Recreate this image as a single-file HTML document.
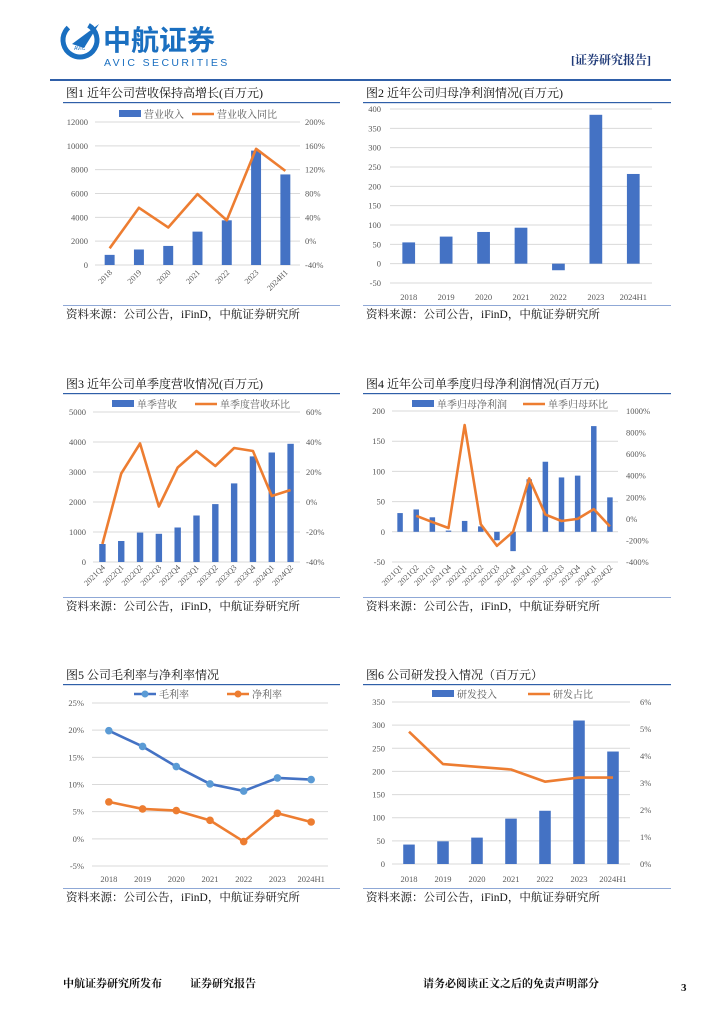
<!DOCTYPE html>
<html><head><meta charset="utf-8">
<style>
html,body{margin:0;padding:0;background:#fff;}
#page{position:relative;width:724px;height:1024px;overflow:hidden;font-family:"Liberation Serif","Noto Serif CJK SC",serif;}
svg text{font-family:"Liberation Serif","Noto Serif CJK SC",serif;}
svg text.sans{font-family:"Liberation Sans","Noto Sans CJK SC",sans-serif;}
</style></head>
<body>
<div id="page">
<svg id="svg" width="724" height="1024" viewBox="0 0 724 1024">
  <g>
    <g>
      <circle cx="80" cy="40" r="17" fill="none" stroke="#1a6fc0" stroke-width="5" stroke-dasharray="85 30" transform="rotate(-60 80 40)"/>
      <polygon points="72,44 99,24 84,48" fill="#1a6fc0"/>
      <text class="sans" x="74" y="50" font-size="5" fill="#1a6fc0">AVIC</text>
    </g>
    <text class="sans" x="103" y="50" font-size="28" font-weight="bold" fill="#1a6fc0">中航证券</text>
    <text class="sans" x="104" y="66" font-size="10.5" fill="#1a6fc0" letter-spacing="2.4">AVIC SECURITIES</text>
    <text x="571" y="64" font-size="12" font-weight="bold" fill="#1f3a78">[证券研究报告]</text>
    <rect x="50" y="79" width="621" height="2" fill="#2f5fa8"/>
  </g>
  <g id="charts"></g>
  <g>
    <text x="63" y="987" font-size="11" font-weight="bold" fill="#111">中航证券研究所发布</text>
    <text x="190" y="987" font-size="11" font-weight="bold" fill="#111">证券研究报告</text>
    <text x="423" y="987" font-size="11" font-weight="bold" fill="#111">请务必阅读正文之后的免责声明部分</text>
    <text x="681" y="991" font-size="11" font-weight="bold" fill="#111">3</text>
  </g>
</svg>
</div>
<script>
// ---------- Chart 1 data ----------
const c1Cats = ["2018","2019","2020","2021","2022","2023","2024H1"];
const c1Revenue = [850,1300,1600,2800,3750,9600,7600];
const c1Growth = [-12,56,23,79,35,155,118];
const c1LeftTicks = [0,2000,4000,6000,8000,10000,12000];
const c1RightTicks = [-40,0,40,80,120,160,200];
const c1RightLabels = ["-40%","0%","40%","80%","120%","160%","200%"];
// ---------- Chart 2 data ----------
const c2Cats = ["2018","2019","2020","2021","2022","2023","2024H1"];
const c2Profit = [55,70,82,93,-17,385,232];
const c2LeftTicks = [-50,0,50,100,150,200,250,300,350,400];
// ---------- Chart 3 data ----------
const c3Cats = ["2021Q4","2022Q1","2022Q2","2022Q3","2022Q4","2023Q1","2023Q2","2023Q3","2023Q4","2024Q1","2024Q2"];
const c3Revenue = [600,700,980,940,1150,1550,1930,2620,3520,3650,3940];
const c3QoQ = [-28,19,39,-3,23,34,24,36,34,4,8];
const c3LeftTicks = [0,1000,2000,3000,4000,5000];
const c3RightTicks = [-40,-20,0,20,40,60];
const c3RightLabels = ["-40%","-20%","0%","20%","40%","60%"];
// ---------- Chart 4 data ----------
const c4Cats = ["2021Q1","2021Q2","2021Q3","2021Q4","2022Q1","2022Q2","2022Q3","2022Q4","2023Q1","2023Q2","2023Q3","2023Q4","2024Q1","2024Q2"];
const c4Profit = [31,37,24,2,18,9,-14,-32,87,116,90,93,175,57];
const c4QoQ = [null,28,-30,-85,870,-50,-250,-120,375,40,-20,0,90,-70];
const c4LeftTicks = [-50,0,50,100,150,200];
const c4RightTicks = [-400,-200,0,200,400,600,800,1000];
const c4RightLabels = ["-400%","-200%","0%","200%","400%","600%","800%","1000%"];
// ---------- Chart 5 data ----------
const c5Cats = ["2018","2019","2020","2021","2022","2023","2024H1"];
const c5Gross = [19.9,17.0,13.3,10.1,8.8,11.2,10.9];
const c5Net = [6.8,5.5,5.2,3.4,-0.5,4.7,3.1];
const c5LeftTicks = [-5,0,5,10,15,20,25];
const c5LeftLabels = ["-5%","0%","5%","10%","15%","20%","25%"];
// ---------- Chart 6 data ----------
const c6Cats = ["2018","2019","2020","2021","2022","2023","2024H1"];
const c6RD = [42,49,57,98,115,310,243];
const c6Ratio = [4.9,3.7,3.6,3.5,3.05,3.2,3.2];
const c6LeftTicks = [0,50,100,150,200,250,300,350];
const c6RightTicks = [0,1,2,3,4,5,6];
const c6RightLabels = ["0%","1%","2%","3%","4%","5%","6%"];

const NS = "http://www.w3.org/2000/svg";
const root = document.getElementById("charts");
const BLUE = "#4472c4", ORANGE = "#ed7d31", GRID = "#d9d9d9", TICK = "#595959";

function mk(tag, attrs, parent){
  const e = document.createElementNS(NS, tag);
  for (const k in attrs) e.setAttribute(k, attrs[k]);
  (parent||root).appendChild(e);
  return e;
}
function txt(parent, x, y, s, size, fill, anchor, extra){
  const t = mk("text", Object.assign({x:x, y:y, "font-size":size, fill:fill, "text-anchor":anchor||"start"}, extra||{}), parent);
  t.textContent = s;
  return t;
}
function scale(d0,d1,r0,r1){ return v => r0 + (v-d0)/(d1-d0)*(r1-r0); }

function chart(c){
  const g = mk("g", {});
  
  
  const t = txt(g, c.px+3, c.titleY, c.title, 12, "#111", "start");
  
  
  const r1 = mk("rect", {x:c.px, y:c.ruleY, width:c.pw, height:1.2, fill:"#2f5fa8"}, g);
  
  
  const r2 = mk("rect", {x:c.px, y:c.srcRuleY, width:c.pw, height:1, fill:"#8fa8d6"}, g);
  
  
  const s = txt(g, c.px+3, c.srcRuleY+13, "资料来源：公司公告，iFinD，中航证券研究所", 11.5, "#111", "start");
  
  

  const ly = scale(c.lMin, c.lMax, c.y0, c.y1);
  const ry = c.rMin!==undefined ? scale(c.rMin, c.rMax, c.y0, c.y1) : null;
  c.lTicks.forEach((v,i)=>{
    const gl = mk("line", {x1:c.x0, x2:c.x1, y1:ly(v), y2:ly(v), stroke:GRID, "stroke-width":1}, g);
    
    
    const tl = txt(g, c.lLabelX, ly(v)+3, c.lLabels? c.lLabels[i] : String(v), 8.5, TICK, "end");
    
    
  });
  if (ry) c.rTicks.forEach((v,i)=>{
    const tr = txt(g, c.rLabelX, ry(v)+3, c.rLabels[i], 8.5, TICK, "start");
    
    
  });
  const n = c.cats.length, slot = (c.x1-c.x0)/n;
  const cx = i => c.x0 + (i+0.5)*slot;
  c.cats.forEach((cat,i)=>{
    let tx;
    if (c.rotate){
      tx = txt(g, cx(i)+3, c.xLabelY, cat, 8, TICK, "end", {transform:`rotate(-45 ${cx(i)+3} ${c.xLabelY})`});
    } else {
      tx = txt(g, cx(i), c.xLabelY, cat, 8.5, TICK, "middle");
    }
    
    
  });
  if (c.bars){
    const bw = slot*0.34;
    c.bars.forEach((v,i)=>{
      const y = ly(Math.max(v,0)), h = Math.abs(ly(v)-ly(0));
      const b = mk("rect", {x:cx(i)-bw/2, y:y, width:bw, height:h, fill:BLUE}, g);
      
      
    });
  }
  (c.lines||[]).forEach(L=>{
    const yf = L.axis==="r" ? ry : ly;
    const pts = [];
    L.data.forEach((v,i)=>{ if (v!==null) pts.push([cx(i), yf(v)]); });
    const p = mk("polyline", {points:pts.map(p=>p.join(",")).join(" "), fill:"none", stroke:L.color, "stroke-width":2.6, "stroke-linejoin":"round"}, g);
    
    
    if (L.marker) pts.forEach(pt=>{
      const m = mk("circle", {cx:pt[0], cy:pt[1], r:3.8, fill:L.marker}, g);
      
      
    });
  });
  (c.legend||[]).forEach(Lg=>{
    let sw;
    if (Lg.type==="bar") sw = mk("rect", {x:Lg.x, y:c.legendY-4, width:22, height:7, fill:BLUE}, g);
    else {
      sw = mk("line", {x1:Lg.x, x2:Lg.x+22, y1:c.legendY, y2:c.legendY, stroke:Lg.color, "stroke-width":2.6}, g);
      if (Lg.marker) mk("circle", {cx:Lg.x+11, cy:c.legendY, r:3.5, fill:Lg.marker}, g);
    }
    
    
    const lt = txt(g, Lg.x+25, c.legendY+4, Lg.label, 10, TICK, "start");
    
    
  });
}

chart({name:"chart-revenue-growth", title:"图1  近年公司营收保持高增长(百万元)", px:63, pw:277, titleY:97, ruleY:102, srcRuleY:305,
  cats:c1Cats, x0:95, x1:300, y0:265, y1:122, lMin:0, lMax:12000, lTicks:c1LeftTicks, lLabelX:88,
  rMin:-40, rMax:200, rTicks:c1RightTicks, rLabels:c1RightLabels, rLabelX:305, rotate:true, xLabelY:273,
  bars:c1Revenue, lines:[{data:c1Growth, axis:"r", color:ORANGE, name:"line-revenue-growth"}], legendY:114,
  legend:[{type:"bar", x:119, label:"营业收入"},{type:"line", x:192, color:ORANGE, label:"营业收入同比"}]});

chart({name:"chart-net-profit", title:"图2  近年公司归母净利润情况(百万元)", px:363, pw:308, titleY:97, ruleY:102, srcRuleY:305,
  cats:c2Cats, x0:390, x1:652, y0:283, y1:109, lMin:-50, lMax:400, lTicks:c2LeftTicks, lLabelX:381,
  rotate:false, xLabelY:300, bars:c2Profit});

chart({name:"chart-quarterly-revenue", title:"图3  近年公司单季度营收情况(百万元)", px:63, pw:277, titleY:388, ruleY:393, srcRuleY:597,
  cats:c3Cats, x0:93, x1:300, y0:562, y1:412, lMin:0, lMax:5000, lTicks:c3LeftTicks, lLabelX:86,
  rMin:-40, rMax:60, rTicks:c3RightTicks, rLabels:c3RightLabels, rLabelX:306, rotate:true, xLabelY:568,
  bars:c3Revenue, lines:[{data:c3QoQ, axis:"r", color:ORANGE, name:"line-quarterly-revenue-qoq"}], legendY:404,
  legend:[{type:"bar", x:112, label:"单季营收"},{type:"line", x:195, color:ORANGE, label:"单季度营收环比"}]});

chart({name:"chart-quarterly-profit", title:"图4  近年公司单季度归母净利润情况(百万元)", px:363, pw:308, titleY:388, ruleY:393, srcRuleY:597,
  cats:c4Cats, x0:392, x1:618, y0:562, y1:411, lMin:-50, lMax:200, lTicks:c4LeftTicks, lLabelX:385,
  rMin:-400, rMax:1000, rTicks:c4RightTicks, rLabels:c4RightLabels, rLabelX:626, rotate:true, xLabelY:568,
  bars:c4Profit, lines:[{data:c4QoQ, axis:"r", color:ORANGE, name:"line-quarterly-profit-qoq"}], legendY:404,
  legend:[{type:"bar", x:412, label:"单季归母净利润"},{type:"line", x:523, color:ORANGE, label:"单季归母环比"}]});

chart({name:"chart-margins", title:"图5  公司毛利率与净利率情况", px:63, pw:277, titleY:679, ruleY:684, srcRuleY:888,
  cats:c5Cats, x0:92, x1:328, y0:866, y1:703, lMin:-5, lMax:25, lTicks:c5LeftTicks, lLabels:c5LeftLabels, lLabelX:84,
  rotate:false, xLabelY:882, legendY:694,
  lines:[{data:c5Gross, axis:"l", color:"#4472c4", marker:"#5b9bd5", name:"line-gross-margin"},
         {data:c5Net, axis:"l", color:ORANGE, marker:ORANGE, name:"line-net-margin"}],
  legend:[{type:"line", x:134, color:"#4472c4", marker:"#5b9bd5", label:"毛利率"},{type:"line", x:227, color:ORANGE, marker:ORANGE, label:"净利率"}]});

chart({name:"chart-rd-investment", title:"图6  公司研发投入情况（百万元）", px:363, pw:308, titleY:679, ruleY:684, srcRuleY:888,
  cats:c6Cats, x0:392, x1:630, y0:864, y1:702, lMin:0, lMax:350, lTicks:c6LeftTicks, lLabelX:385,
  rMin:0, rMax:6, rTicks:c6RightTicks, rLabels:c6RightLabels, rLabelX:640, rotate:false, xLabelY:882,
  bars:c6RD, lines:[{data:c6Ratio, axis:"r", color:ORANGE, name:"line-rd-ratio"}], legendY:694,
  legend:[{type:"bar", x:432, label:"研发投入"},{type:"line", x:528, color:ORANGE, label:"研发占比"}]});
</script>
</body></html>
